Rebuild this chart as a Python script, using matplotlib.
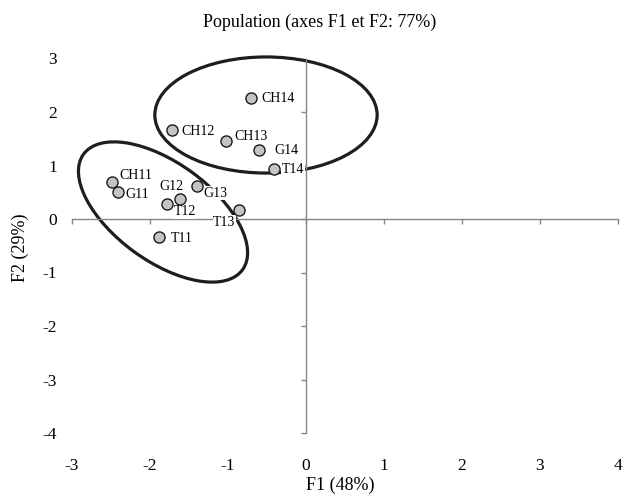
import matplotlib
matplotlib.use("Agg")
import matplotlib.pyplot as plt
from matplotlib.patches import Ellipse
from matplotlib.transforms import Affine2D

plt.rcParams['font.family'] = ['Liberation Serif', 'DejaVu Serif']

# ---- data ----
labels = ["CH11", "CH12", "CH13", "CH14", "G11", "G12", "G13", "G14",
          "T11", "T12", "T13", "T14"]
f1 = [-2.49, -1.72, -1.03, -0.70, -2.41, -1.62, -1.40, -0.60,
      -1.89, -1.78, -0.86, -0.41]
f2 = [0.69, 1.66, 1.46, 2.27, 0.51, 0.38, 0.62, 1.29,
      -0.34, 0.28, 0.16, 0.93]
x_ticks = [-3, -2, -1, 0, 1, 2, 3, 4]
y_ticks = [-4, -3, -2, -1, 0, 1, 2, 3]
title = "Population (axes F1 et F2: 77%)"
xlabel = "F1 (48%)"
ylabel = "F2 (29%)"

# label placement (offset in points, ha, va)
label_pos = {
    "CH14": ((7, -1), "left", "center"),
    "CH12": ((7, -1), "left", "center"),
    "CH13": ((6, 3.5), "left", "center"),
    "G14": ((11, -0.5), "left", "center"),
    "T14": ((5.5, -0.5), "left", "center"),
    "CH11": ((5.5, 5), "left", "center"),
    "G11": ((5, -2), "left", "center"),
    "G12": ((3, 9), "right", "center"),
    "T12": ((5, -5.5), "left", "center"),
    "G13": ((5, -5.3), "left", "center"),
    "T13": ((-2.5, -8.7), "right", "center"),
    "T11": ((9, -1), "left", "center"),
}

W, H = 623, 497
fig = plt.figure(figsize=(W / 100, H / 100), dpi=100)
rect = [72 / W, 1 - 433 / H, (618 - 72) / W, (433 - 58.5) / H]
ax = fig.add_axes(rect)
ax.set_xlim(-3, 4)
ax.set_ylim(-4, 3)

axis_col = "#868686"
for s in ["top", "right"]:
    ax.spines[s].set_visible(False)
ax.spines["left"].set_position(("data", 0))
ax.spines["bottom"].set_position(("data", 0))
for s in ["left", "bottom"]:
    ax.spines[s].set_color(axis_col)
    ax.spines[s].set_linewidth(1.0)
ax.set_xticks(x_ticks)
ax.set_yticks(y_ticks)
ax.tick_params(axis="both", direction="out", length=3.5, width=1.0,
               color=axis_col, labelleft=False, labelbottom=False)
ax.patch.set_visible(False)

# overlay axes only for tick labels at the plot edges
ax2 = fig.add_axes(rect, zorder=-1)
ax2.set_xlim(-3, 4)
ax2.set_ylim(-4, 3)
ax2.set_xticks(x_ticks)
ax2.set_yticks(y_ticks)
ax2.set_xticklabels([str(v) for v in x_ticks])
ax2.set_yticklabels([str(v) for v in y_ticks])
for s in ax2.spines.values():
    s.set_visible(False)
ax2.tick_params(axis="both", length=0, labelsize=12.5, colors="black")
ax2.tick_params(axis="y", pad=11)
ax2.tick_params(axis="x", pad=18)
ax2.patch.set_visible(False)

# ellipses
ell_col = "#1e1e1e"
upper = Ellipse((-0.513, 1.944), width=2.85, height=2.17, angle=0,
                fill=False, ec=ell_col, lw=2.3, zorder=2, clip_on=False)
ax.add_patch(upper)

ratio = (rect[3] * H / 7.0) / (rect[2] * W / 7.0)
vis = Affine2D().scale(1, 1 / ratio) + ax.transData
lower = Ellipse((-1.833, 0.131 * ratio), width=2.52, height=1.26, angle=-36,
                fill=False, ec=ell_col, lw=2.3, zorder=2, transform=vis,
                clip_on=False)
ax.add_patch(lower)

# points
ax.scatter(f1, f2, s=64, c="#c4c4c4", edgecolors="#1a1a1a", linewidths=1.0,
           zorder=5, clip_on=False)
for lab, x, y in zip(labels, f1, f2):
    off, ha, va = label_pos[lab]
    ax.annotate(lab, (x, y), xytext=off, textcoords="offset points",
                ha=ha, va=va, fontsize=10, zorder=4,
                bbox=dict(boxstyle="square,pad=0.05", fc="white", ec="none"))

fig.text(320 / W, 1 - 22 / H, title, ha="center", va="center", fontsize=13)
fig.text(340 / W, 1 - 485 / H, xlabel, ha="center", va="center", fontsize=13)
fig.text(20 / W, 1 - 248 / H, ylabel, ha="center", va="center", fontsize=13,
         rotation=90)

fig.savefig("out.png", dpi=100)
